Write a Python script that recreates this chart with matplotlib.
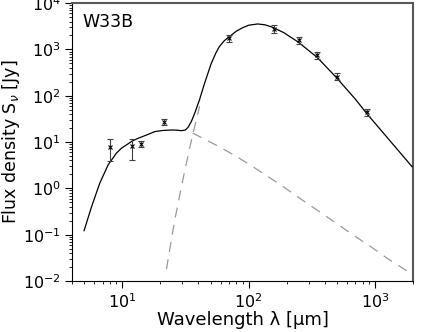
import matplotlib
matplotlib.use("Agg")
import matplotlib.pyplot as plt

# observed photometry
obs_wav = [8.0, 12.0, 14.0, 21.5, 70.0, 160.0, 250.0, 350.0, 500.0, 870.0]
obs_flux = [7.7, 8.2, 9.0, 26.8, 1750.0, 2800.0, 1600.0, 740.0, 260.0, 44.0]
obs_err_lo = [3.8, 4.2, 1.2, 3.8, 300.0, 480.0, 280.0, 130.0, 45.0, 7.5]
obs_err_hi = [3.8, 3.3, 1.3, 4.2, 330.0, 520.0, 300.0, 140.0, 50.0, 8.0]

# total model
tot_wav = [5.0, 5.7, 6.65, 7.74, 9.0, 9.87, 12.0, 13.4, 15.5, 18.1, 20.9, 24.6, 27.0,
           29.4, 31.6, 33.3, 35.3, 37.5, 40.8, 44.7, 50.4, 55.0, 58.7, 64.0, 70.5,
           80.0, 89.8, 100.0, 118.0, 135.0, 155.0, 190.0, 244.0, 348.0, 492.0, 700.0,
           865.0, 1300.0, 1963.0]
tot_flux = [0.122, 0.385, 1.29, 3.2, 5.75, 7.35, 10.5, 12.1, 14.1, 16.8, 17.8, 18.2, 18.1,
            17.6, 18.2, 21.0, 28.0, 42.0, 80.0, 180.0, 480.0, 830.0, 1150.0, 1530.0, 1890.0,
            2480.0, 2950.0, 3330.0, 3550.0, 3400.0, 3010.0, 2300.0, 1476.0, 678.0, 251.0, 84.0,
            40.5, 11.0, 2.94]

# cold component (visible rising part)
cold_wav = [22.4, 24.0, 26.0, 28.0, 30.0, 32.0, 34.0, 36.5, 39.0, 41.0]
cold_flux = [0.018, 0.055, 0.2, 0.55, 1.4, 3.2, 7.0, 16.0, 34.0, 60.0]

# warm component (visible falling part)
warm_wav = [36.0, 45.0, 58.7, 80.0, 105.0, 138.0, 187.0, 261.0, 354.0, 480.0, 670.0,
            935.0, 1268.0, 1927.0, 2000.0]
warm_flux = [15.7, 11.5, 7.9, 4.9, 3.1, 1.9, 1.1, 0.58, 0.33, 0.185, 0.099,
             0.054, 0.030, 0.0145, 0.0135]

fig = plt.figure(figsize=(4.25, 3.32), dpi=100)
ax = fig.add_axes([0.169, 0.1536, 0.803, 0.837])

ax.plot(tot_wav, tot_flux, color="black", lw=0.9, zorder=3)
ax.plot(cold_wav, cold_flux, color="0.6", lw=0.9, ls=(0, (8, 6)), zorder=2)
ax.plot(warm_wav, warm_flux, color="0.6", lw=0.9, ls=(0, (8, 6)), zorder=2)
ax.errorbar(obs_wav, obs_flux, yerr=[obs_err_lo, obs_err_hi], fmt="x", color="black",
            ecolor="0.25", ms=3.5, mew=0.8, elinewidth=0.8, capsize=2.5, capthick=0.8,
            zorder=4)

ax.set_xscale("log")
ax.set_yscale("log")
ax.set_xlim(4, 2000)
ax.set_ylim(1e-2, 1e4)

for s in ["top", "right"]:
    ax.spines[s].set_color("0.35")
    ax.spines[s].set_linewidth(1.5)
ax.tick_params(which="both", top=False, right=False, direction="out")
ax.tick_params(axis="both", which="major", labelsize=11.5, length=5, pad=3)
ax.tick_params(axis="both", which="minor", length=2.5)

ax.set_xlabel("Wavelength λ [μm]", fontsize=13, labelpad=0)
ax.set_ylabel(r"Flux density S$_\nu$ [Jy]", fontsize=12.5)
ax.yaxis.set_label_coords(-0.147, 0.5)
ax.text(0.03, 0.965, "W33B", transform=ax.transAxes, fontsize=12.5, va="top", ha="left")

fig.savefig("out.png", dpi=100)
